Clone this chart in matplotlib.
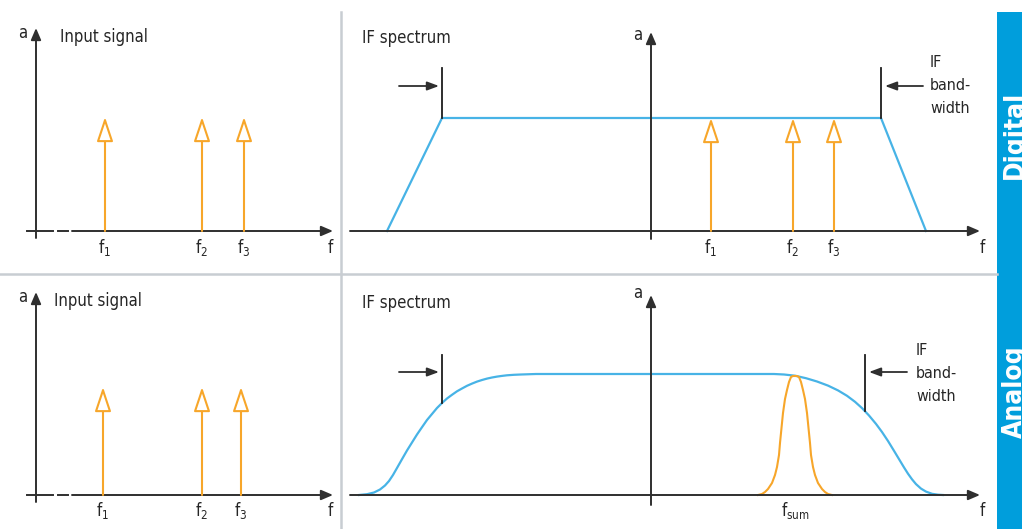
import matplotlib.pyplot as plt
from matplotlib.patches import Rectangle

plt.rcParams['font.family'] = ['DejaVu Sans']
plt.rcParams['font.stretch'] = 'condensed'

W, H = 1022, 529
ORANGE = '#F7A62A'
CURVE = '#47B3E6'
BAND = '#009EDC'
AXIS = '#2f2f2f'
TEXT = '#262626'
SEP = '#C8CDD2'

# --- data (1 unit = 1 px, origin at the axis crossing of each panel) ---
# digital row
dig_in_f = [69, 166, 208]
dig_in_a = 114
dig_if_f = [60, 142, 183]
dig_if_a = 113
trap_x = [-264, -209, 230, 275]
trap_y = [0, 113, 113, 0]
dig_bw_edges = [-209, 230]
dig_bw_foot = [113, 113]

# analog row
ana_in_f = [67, 166, 205]
ana_in_a = 108
filt_x = [-292, -284, -277, -271, -266, -262, -258, -254, -249, -244, -239, -234,
          -229, -224, -219, -214, -209, -204, -199, -194, -189, -184, -179, -174,
          -169, -164, -159, -154, -149, -144, -137, -130, -115,
          123, 133, 144, 155, 166, 177, 187, 196, 204, 211, 218, 225, 231, 237,
          243, 248, 253, 257, 261, 265, 270, 275, 281, 287, 292]
filt_y = [0, 0.8, 2.5, 5.5, 9.5, 14, 20, 27, 35.8, 44.5, 52.5, 60.5,
          67.8, 75, 81, 87, 92, 96.5, 100.2, 103.7, 106.5, 109.2, 111.4, 113.4,
          115, 116.4, 117.5, 118.4, 119.1, 119.7, 120.2, 120.5, 121,
          121, 120.5, 119.3, 116.8, 113.5, 109.4, 104.6, 99.2, 93.2, 86.9, 79.5,
          71.1, 63, 54, 44.2, 35.9, 27.6, 21.3, 15.7, 10.9, 6.4, 3.4, 1.2, 0.3, 0]
sum_x = [107, 111, 114, 117, 121, 124, 126, 128, 129, 130, 131, 132, 134, 136, 138,
         140, 142, 144, 146, 148, 150, 152, 154, 156, 157, 158, 159, 160, 162, 164,
         167, 171, 174, 177, 181]
sum_y = [0, 1, 3, 6, 12, 20, 28, 40, 52, 62, 72, 82, 96, 105, 113,
         118, 119, 119, 119, 118, 113, 105, 96, 82, 72, 62, 52, 40, 28, 20,
         12, 6, 3, 1, 0]
f_sum = 144
ana_bw_edges = [-209, 214]
ana_bw_foot = [92, 84]

tone_labels = [r'$\mathregular{f_1}$', r'$\mathregular{f_2}$', r'$\mathregular{f_3}$']

fig = plt.figure(figsize=(W / 100, H / 100), dpi=100)

# frame: separators and side band
bg = fig.add_axes([0, 0, 1, 1])
bg.set_xlim(0, W)
bg.set_ylim(H, 0)
bg.axis('off')
bg.plot([341, 341], [12, H], color=SEP, lw=1.8)
bg.plot([0, 997], [274, 274], color=SEP, lw=1.8)
bg.add_patch(Rectangle((997, 12), 25, H - 12, color=BAND, lw=0))
for label, yc in [('Digital', 135), ('Analog', 392)]:
    bg.text(1022, yc, label, rotation=90, rotation_mode='anchor', ha='center',
            va='baseline', color='white', fontsize=19, fontweight='bold')


def panel(l, t, r, b, ox, oy):
    ax = fig.add_axes([l / W, 1 - b / H, (r - l) / W, (b - t) / H])
    ax.set_xlim(l - ox, r - ox)
    ax.set_ylim(oy - b, oy - t)
    ax.axis('off')
    return ax


def arrow(ax, start, end, color=AXIS, lw=1.4, hl=7, hw=3, fc=None):
    ax.annotate('', xy=end, xytext=start,
                arrowprops=dict(arrowstyle=f'-|>,head_length={hl},head_width={hw}',
                                mutation_scale=1, color=color, lw=lw,
                                fc=fc if fc else color, shrinkA=0, shrinkB=0))


def tones(ax, freqs, amp, ylab):
    for f, lab in zip(freqs, tone_labels):
        arrow(ax, (f, 0), (f, amp), color=ORANGE, lw=1.5, hl=15, hw=5, fc='white')
        ax.text(f, ylab, lab, ha='center', va='baseline', fontsize=12, color=TEXT)


def input_axes(ax, ytop, xend):
    ax.plot([-9, 17], [0, 0], color=AXIS, lw=1.4)
    ax.plot([22, 32], [0, 0], color=AXIS, lw=1.4)
    arrow(ax, (36, 0), (xend, 0))
    arrow(ax, (0, -7), (0, ytop))


def bandwidth(ax, edges, foot, top, y_arr, xtext, ybase):
    for x, y0 in zip(edges, foot):
        ax.plot([x, x], [y0, top], color='#1e1e1e', lw=1.3)
    arrow(ax, (edges[0] - 43, y_arr), (edges[0] - 3, y_arr), lw=1.3, hl=7, hw=2.6)
    arrow(ax, (edges[1] + 42, y_arr), (edges[1] + 4, y_arr), lw=1.3, hl=7, hw=2.6)
    for line, yb in zip(['IF', 'band-', 'width'], ybase):
        ax.text(xtext, yb, line, ha='left', va='baseline', fontsize=11.5, color=TEXT)


# ---- digital: input signal ----
ax = panel(0, 0, 341, 274, 36, 231)
input_axes(ax, 203, 297)
tones(ax, dig_in_f, dig_in_a, -22)
ax.text(-13, 193, 'a', ha='center', va='baseline', fontsize=12, color=TEXT)
ax.text(24, 189, 'Input signal', ha='left', va='baseline', fontsize=12, color=TEXT)
ax.text(294, -22, 'f', ha='center', va='baseline', fontsize=12, color=TEXT)

# ---- digital: IF spectrum ----
ax = panel(341, 0, 997, 274, 651, 231)
ax.plot(trap_x, trap_y, color=CURVE, lw=1.6)
arrow(ax, (-301, 0), (329, 0))
arrow(ax, (0, -8), (0, 199))
tones(ax, dig_if_f, dig_if_a, -22)
bandwidth(ax, dig_bw_edges, dig_bw_foot, 163, 145, 279, [164, 141, 118])
ax.text(-13, 191, 'a', ha='center', va='baseline', fontsize=12, color=TEXT)
ax.text(-289, 188, 'IF spectrum', ha='left', va='baseline', fontsize=12, color=TEXT)
ax.text(331, -22, 'f', ha='center', va='baseline', fontsize=12, color=TEXT)

# ---- analog: input signal ----
ax = panel(0, 274, 341, 529, 36, 495)
input_axes(ax, 203, 297)
tones(ax, ana_in_f, ana_in_a, -21)
ax.text(-13, 193, 'a', ha='center', va='baseline', fontsize=12, color=TEXT)
ax.text(18, 189, 'Input signal', ha='left', va='baseline', fontsize=12, color=TEXT)
ax.text(294, -21, 'f', ha='center', va='baseline', fontsize=12, color=TEXT)

# ---- analog: IF spectrum ----
ax = panel(341, 274, 997, 529, 651, 495)
ax.plot(filt_x, filt_y, color=CURVE, lw=1.6)
ax.plot(sum_x, sum_y, color=ORANGE, lw=1.5)
arrow(ax, (-301, 0), (329, 0))
arrow(ax, (0, -10), (0, 200))
bandwidth(ax, ana_bw_edges, ana_bw_foot, 140, 123, 265, [140, 117, 94])
ax.text(f_sum, -21, r'$\mathregular{f_{sum}}$', ha='center', va='baseline',
        fontsize=12, color=TEXT)
ax.text(-13, 197, 'a', ha='center', va='baseline', fontsize=12, color=TEXT)
ax.text(-289, 187, 'IF spectrum', ha='left', va='baseline', fontsize=12, color=TEXT)
ax.text(331, -21, 'f', ha='center', va='baseline', fontsize=12, color=TEXT)

fig.savefig('out.png', dpi=100)
